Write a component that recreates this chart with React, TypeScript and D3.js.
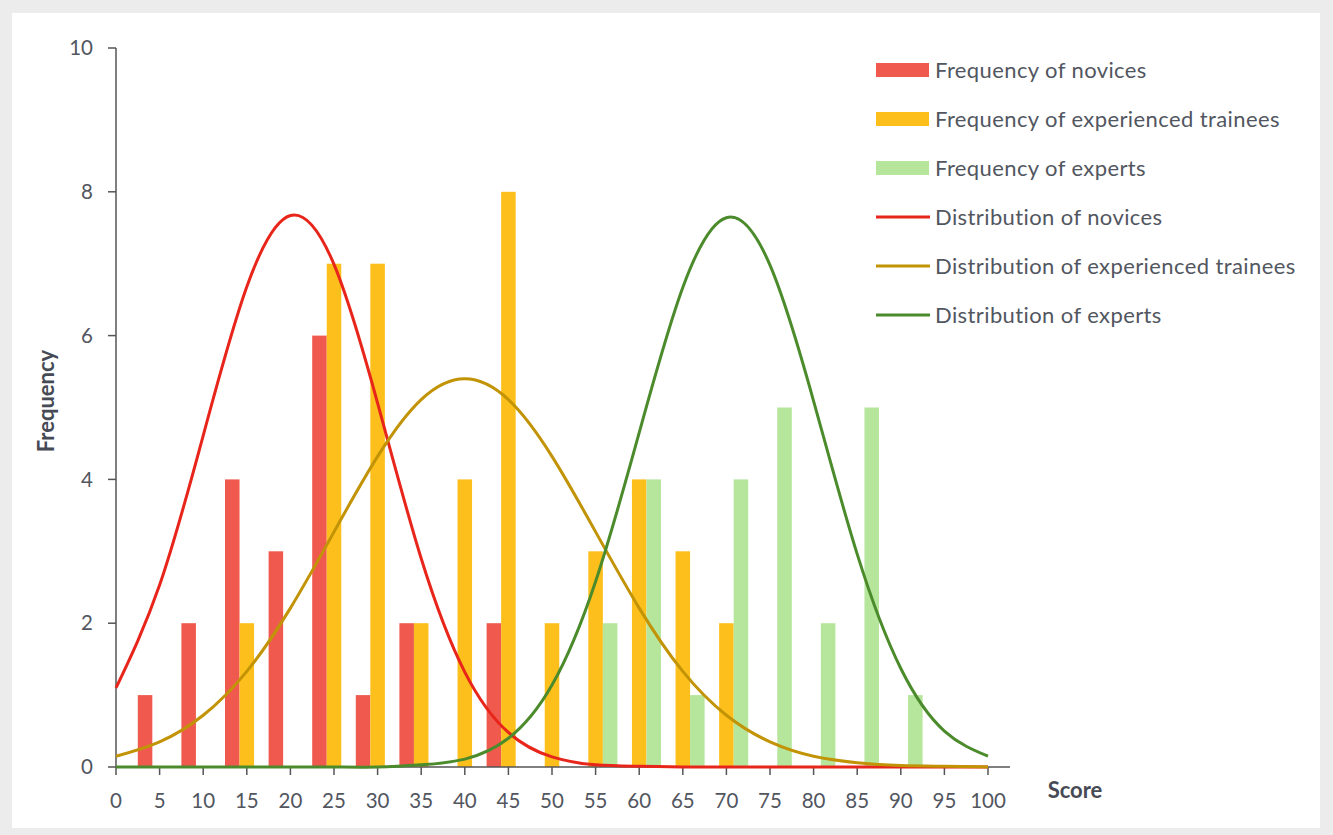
import React from 'react';
import * as d3 from 'd3';

// score bins (bars sit on these ticks)
const bins = [5, 10, 15, 20, 25, 30, 35, 40, 45, 50, 55, 60, 65, 70, 75, 80, 85, 90, 95, 100];
const novices = [1, 2, 4, 3, 6, 1, 2, 0, 2, 0, 0, 0, 0, 0, 0, 0, 0, 0, 0, 0];
const trainees = [0, 0, 2, 0, 7, 7, 2, 4, 8, 2, 3, 4, 3, 2, 0, 0, 0, 0, 0, 0];
const experts = [0, 0, 0, 0, 0, 0, 0, 0, 0, 0, 2, 4, 1, 4, 5, 2, 5, 1, 0, 0];

// distribution curves, every 5 points of score
const curveScores = [0, 5, 10, 15, 20, 25, 30, 35, 40, 45, 50, 55, 60, 65, 70, 75, 80, 85, 90, 95, 100];
const novicesDist = [1.1, 2.53, 4.61, 6.68, 7.67, 6.99, 5.06, 2.9, 1.32, 0.48, 0.14, 0.03, 0.01, 0, 0, 0, 0, 0, 0, 0, 0];
const traineesDist = [0.15, 0.35, 0.72, 1.33, 2.21, 3.27, 4.32, 5.11, 5.4, 5.11, 4.32, 3.27, 2.21, 1.33, 0.72, 0.35, 0.15, 0.06, 0.02, 0.01, 0];
const expertsDist = [0, 0, 0, 0, 0, 0, 0, 0.03, 0.11, 0.4, 1.14, 2.58, 4.65, 6.67, 7.64, 6.98, 5.09, 2.96, 1.37, 0.5, 0.15];

const xTicks = d3.range(0, 101, 5);
const yTicks = [0, 2, 4, 6, 8, 10];

const legendItems = [
  { label: 'Frequency of novices', color: '#F05A4E', kind: 'bar' },
  { label: 'Frequency of experienced trainees', color: '#FCBF1C', kind: 'bar' },
  { label: 'Frequency of experts', color: '#B5E69C', kind: 'bar' },
  { label: 'Distribution of novices', color: '#E8251A', kind: 'line' },
  { label: 'Distribution of experienced trainees', color: '#C19305', kind: 'line' },
  { label: 'Distribution of experts', color: '#4B8B2B', kind: 'line' }
];

const font = 'Lato, "Open Sans", sans-serif';
const textColor = '#52565f';

export default function App() {
  const width = 1333,
    height = 835;

  const x = d3.scaleLinear().domain([0, 100]).range([116, 988]);
  const y = d3.scaleLinear().domain([0, 10]).range([767, 48]);
  const bw = (x(5) - x(0)) / 3;

  const barSeries = [
    { values: novices, color: legendItems[0].color, offset: -1.5 },
    { values: trainees, color: legendItems[1].color, offset: -0.5 },
    { values: experts, color: legendItems[2].color, offset: 0.5 }
  ];

  const line = d3
    .line<number>()
    .x((d, i) => x(curveScores[i]))
    .y(d => y(d))
    .curve(d3.curveNatural);

  const lines = [
    { values: novicesDist, color: legendItems[3].color },
    { values: traineesDist, color: legendItems[4].color },
    { values: expertsDist, color: legendItems[5].color }
  ];

  return (
    <svg width={width} height={height} style={{ position: 'absolute', left: 0, top: 0 }} fontFamily={font}>
      <rect x={0} y={0} width={width} height={height} fill="#ececec" />
      <rect x={12} y={13} width={1308} height={815} fill="#ffffff" />

      {/* bars */}
      {barSeries.map((s, si) => (
        <g key={si}>
          {s.values.map((v, i) =>
            v > 0 ? (
              <rect
                key={i}
                x={x(bins[i]) + s.offset * bw}
                y={y(v)}
                width={bw}
                height={y(0) - y(v)}
                fill={s.color}
              />
            ) : null
          )}
        </g>
      ))}

      {/* axes */}
      <line x1={116} x2={116} y1={y(10)} y2={y(0)} stroke="#555" strokeWidth={1.5} />
      <line x1={116} x2={1010} y1={y(0)} y2={y(0)} stroke="#555" strokeWidth={1.5} />
      {yTicks.map(t => (
        <g key={t}>
          <line x1={108} x2={116} y1={y(t)} y2={y(t)} stroke="#555" strokeWidth={1.5} />
          <text x={93} y={y(t)} dy="0.35em" textAnchor="end" fontSize={20.5} fill={textColor}>
            {t}
          </text>
        </g>
      ))}
      {xTicks.map(t => (
        <g key={t}>
          <line x1={x(t)} x2={x(t)} y1={y(0)} y2={y(0) + 8} stroke="#555" strokeWidth={1.5} />
          <text x={x(t)} y={801} dy="0.35em" textAnchor="middle" fontSize={20.5} fill={textColor}>
            {t}
          </text>
        </g>
      ))}

      {/* distribution curves */}
      {lines.map((l, i) => (
        <path key={i} d={line(l.values) || ''} fill="none" stroke={l.color} strokeWidth={3} />
      ))}

      {/* axis titles */}
      <text x={1075} y={790} dy="0.35em" textAnchor="middle" fontSize={22} fontWeight="bold" fill="#464a54">
        Score
      </text>
      <text
        transform="translate(46,401) rotate(-90)"
        dy="0.35em"
        textAnchor="middle"
        fontSize={22}
        fontWeight="bold"
        fill="#464a54"
      >
        Frequency
      </text>

      {/* legend */}
      {legendItems.map((item, i) => {
        const cy = 70 + i * 49;
        return (
          <g key={item.label}>
            {item.kind === 'bar' ? (
              <rect x={876} y={cy - 7} width={53} height={14} fill={item.color} />
            ) : (
              <line x1={876} x2={930} y1={cy} y2={cy} stroke={item.color} strokeWidth={3} />
            )}
            <text x={935} y={cy} dy="0.35em" fontSize={22} letterSpacing={0.4} fill={textColor}>
              {item.label}
            </text>
          </g>
        );
      })}
    </svg>
  );
}
